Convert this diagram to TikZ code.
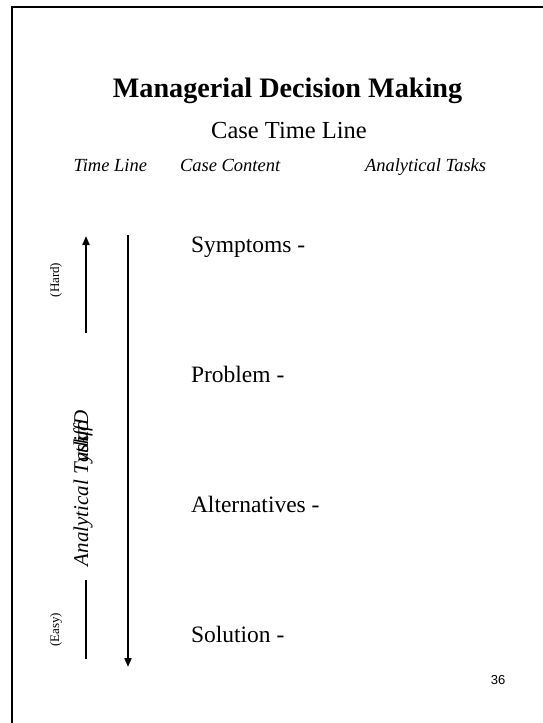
\documentclass[tikz,border=0pt]{standalone}
\usepackage{fontspec}
\setmainfont{Liberation Serif}
\setsansfont{Liberation Sans}
\usetikzlibrary{arrows.meta}

\tikzset{
  txt/.style={inner sep=0pt, outer sep=0pt, text=black},
  item/.style={txt, anchor=base west, font=\fontsize{23.5}{28}\selectfont},
  colhead/.style={txt, anchor=base west, font=\fontsize{18.5}{22}\selectfont\itshape},
  sidelabel/.style={txt, rotate=90, font=\fontsize{13}{15}\selectfont},
  axis/.style={line width=2pt, draw=black},
  axisarrow/.style={axis, -{Triangle[width=7pt,length=9pt]}},
}

\begin{document}
\begin{tikzpicture}[x=1pt, y=-1pt]
  \useasboundingbox (0,0) rectangle (543,723);

  % page frame (runs off the right and bottom edges)
  \draw[line width=2.3pt] (12,723) -- (12,7) -- (543,7);

  % headings
  \node[txt, anchor=base, font=\fontsize{28.2}{34}\selectfont\bfseries] (title) at (287.5,97) {Managerial Decision Making};
  \node[txt, anchor=base, font=\fontsize{24.5}{29}\selectfont] (subtitle) at (289,138) {Case Time Line};

  % column headings
  \node[colhead, anchor=base east] (hTime) at (147,171) {Time Line};
  \node[colhead] (hContent) at (180,171) {Case Content};
  \node[colhead] (hTasks) at (365,171) {Analytical Tasks};

  % case content stages
  \node[item] (symptoms) at (191,252) {Symptoms -};
  \node[item] (problem) at (191,382) {Problem -};
  \node[item] (alternatives) at (191,512) {Alternatives -};
  \node[item] (solution) at (191,642) {Solution -};

  % time line arrow
  \coordinate (tTop) at (128,235);
  \coordinate (tBot) at (128,667);
  \draw[axisarrow] (tTop) -- (tBot);

  % difficulty scale
  \coordinate (dUpLow) at (86,333);
  \coordinate (dUpHigh) at (86,236);
  \draw[axisarrow] (dUpLow) -- (dUpHigh);
  \coordinate (dLowTop) at (86,580);
  \coordinate (dLowBot) at (86,659);
  \draw[axis] (dLowTop) -- (dLowBot);

  \node[sidelabel] (hard) at (56,280) {(Hard)};
  \node[sidelabel] (easy) at (56,630) {(Easy)};

  % overlapping axis caption
  \node[txt, rotate=90, anchor=base west, font=\fontsize{21}{25}\selectfont\itshape] (difficulty) at (88,566)
    {Analytical T\rlap{ask}\rlap{ytluc}\hspace{0.95em}iffD};

  % slide number
  \node[txt, font=\sffamily\fontsize{13}{15}\selectfont] (pagenum) at (498,680) {36};
\end{tikzpicture}
\end{document}
